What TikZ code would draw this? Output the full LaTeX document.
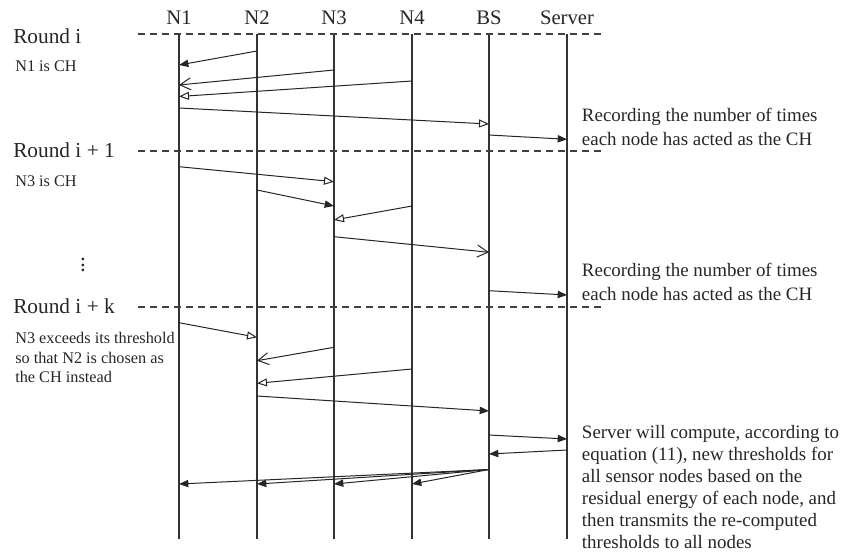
\documentclass[tikz,border=0pt]{standalone}
\usepackage{fontspec}
\setmainfont{Liberation Serif}
\usetikzlibrary{arrows.meta}

\tikzset{
  life/.style={line width=1.4pt, black!80},
  rnd/.style={line width=0.9pt, black!75, dash pattern=on 5.5pt off 3.5pt},
  msg/.style={line width=0.75pt, black!85},
  fa/.style={msg, -{Triangle[length=7pt,width=5.5pt]}},
  oa/.style={msg, -{Triangle[open,length=7.5pt,width=6pt]}},
  va/.style={msg, -{Straight Barb[length=8pt,width=9pt]}},
  head/.style={font=\fontsize{15.5}{18}\selectfont, anchor=base, inner sep=0pt},
  roundlbl/.style={font=\fontsize{16}{19}\selectfont, anchor=base west, inner sep=0pt},
  note/.style={font=\fontsize{12.2}{14.6}\selectfont, anchor=base west, inner sep=0pt, align=left},
  remark/.style={font=\fontsize{14.2}{17.5}\selectfont, anchor=base west, inner sep=0pt, align=left},
}

\begin{document}
\begin{tikzpicture}[x=0.75pt, y=-0.75pt, text=black!85]
    \useasboundingbox (0,0) rectangle (841,553);
    \foreach \x/\n/\t in {179/n1/N1, 257/n2/N2, 334/n3/N3, 412/n4/N4, 489/bs/BS, 567/srv/Server}
    {
        \node[head] (h\n) at (\x,24) {\t};
        \coordinate (\n) at (\x,34);
        \coordinate (\n b) at (\x,539);
        \draw[life] (\n) -- (\n b);
    }
    \foreach \y/\b/\t/\c in {34/43/{Round i}/r1, 151/157/{Round i + 1}/r2, 307/313/{Round i + k}/r3}
    {
        \node[roundlbl] (\c) at (13,\b) {\t};
        \draw[rnd] (138,\y) -- (603,\y);
    }
    \node[note] (ch1) at (15,71.7) {N1 is CH};
    \node[note] (ch2) at (15,186.5) {N3 is CH};
    \node[note] (ch3) at (15,382.7) {N3 exceeds its threshold\\so that N2 is chosen as\\the CH instead};
    \node[font=\fontsize{17}{19}\selectfont, inner sep=0pt] (dots) at (83,261) {$\vdots$};
    \node[remark] (rec1) at (581.7,145) {Recording the number of times\\each node has acted as the CH};
    \node[remark] (rec2) at (581.7,300) {Recording the number of times\\each node has acted as the CH};
    \node[remark, font=\fontsize{14.2}{16.5}\selectfont] (comp) at (581.7,548)
        {Server will compute, according to\\equation (11), new thresholds for\\all sensor nodes based on the\\residual energy of each node, and\\then transmits the re-computed\\thresholds to all nodes};
    \foreach \s/\a/\d/\e/\k in {n2/51/n1/65/fa, n3/70/n1/85/va, n4/81/n1/96.5/oa, n1/108/bs/124/oa, bs/135/srv/139.3/fa,
        n1/166.7/n3/181.7/oa, n2/190/n3/206/fa, n4/206/n3/220/oa, n3/236.7/bs/252.3/va, bs/290.7/srv/295/fa,
        n1/322.7/n2/337.3/oa, n3/347.3/n2/360.7/va, n4/369/n2/383.3/oa, n2/396/bs/411/fa,
        bs/435/srv/439/fa, srv/450/bs/454/fa, bs/469.5/n1/484/fa, bs/469.5/n2/484/fa, bs/469.5/n3/484/fa, bs/469.5/n4/484/fa}
    \draw[\k] (\s |- 0,\a) -- (\d |- 0,\e);
\end{tikzpicture}
\end{document}
